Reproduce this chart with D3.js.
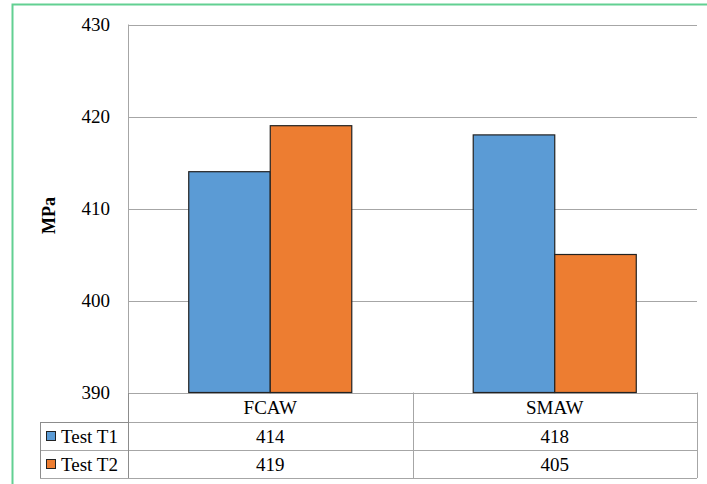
<!DOCTYPE html>
<html>
<head>
<meta charset="utf-8">
<script src="https://cdn.jsdelivr.net/npm/d3@7"></script>
<style>
  html, body { margin: 0; padding: 0; background: #fff; }
  svg { display: block; }
  svg text { font-family: "Liberation Serif", "Times New Roman", Times, "DejaVu Serif", serif; fill: #000; }
</style>
</head>
<body>
<svg id="chart" width="707" height="484"></svg>
<script>
// Welding process tensile strength, two tests per process
const categories = ["FCAW", "SMAW"];
const seriesNames = ["Test T1", "Test T2"];
const testT1 = [414, 418];
const testT2 = [419, 405];
const yTicks = [390, 400, 410, 420, 430];
const colors = ["#5b9bd5", "#ed7d31"];
const yTitle = "MPa";

const series = [testT1, testT2];
const serif = '"Liberation Serif", "Times New Roman", Times, "DejaVu Serif", serif';

const svg = d3.select("#chart");

// outer frame
svg.append("path")
  .attr("d", "M12.5,484 V4.5 H707")
  .attr("fill", "none")
  .attr("stroke", "#62d092")
  .attr("stroke-width", 2);

const plot = { left: 128, right: 697, top: 24.5, bottom: 392.5 };

const x0 = d3.scaleBand()
  .domain(categories)
  .range([plot.left, plot.right])
  .padding(0);

const x1 = d3.scaleBand()
  .domain(seriesNames)
  .range([0, x0.bandwidth()])
  .paddingInner(0)
  .paddingOuter(0.745);

const y = d3.scaleLinear()
  .domain([yTicks[0], yTicks[yTicks.length - 1]])
  .range([plot.bottom, plot.top]);

// y tick labels
const yAxis = d3.axisLeft(y).tickValues(yTicks).tickSize(0).tickPadding(18).tickFormat(d3.format("d"));
const gAxis = svg.append("g")
  .attr("transform", `translate(${plot.left},0)`)
  .call(yAxis)
  .attr("font-family", serif);
gAxis.select(".domain").remove();
gAxis.selectAll("text")
  .attr("font-size", 19)
  .style("font-family", serif);

// gridlines
svg.append("g")
  .selectAll("line")
  .data(yTicks)
  .join("line")
  .attr("x1", plot.left)
  .attr("x2", plot.right)
  .attr("y1", d => Math.round(y(d)) + 0.5)
  .attr("y2", d => Math.round(y(d)) + 0.5)
  .attr("stroke", "#a6a6a6")
  .attr("stroke-width", 1);

// plot area left border
svg.append("line")
  .attr("x1", plot.left + 0.5).attr("x2", plot.left + 0.5)
  .attr("y1", plot.top).attr("y2", plot.bottom)
  .attr("stroke", "#a6a6a6");

// bars
const groups = svg.append("g")
  .selectAll("g")
  .data(categories)
  .join("g")
  .attr("transform", d => `translate(${x0(d)},0)`);

groups.selectAll("rect")
  .data((c, i) => seriesNames.map((s, j) => ({ s, j, v: series[j][i] })))
  .join("rect")
  .attr("x", d => x1(d.s))
  .attr("width", x1.bandwidth())
  .attr("y", d => y(d.v))
  .attr("height", d => y(yTicks[0]) - y(d.v))
  .attr("fill", d => colors[d.j])
  .attr("stroke", "#222")
  .attr("stroke-width", 1.2);

// y axis title
svg.append("text")
  .attr("transform", `translate(55,${(plot.top + plot.bottom) / 2 + 7}) rotate(-90)`)
  .attr("text-anchor", "middle")
  .attr("font-weight", "bold")
  .attr("font-size", 18)
  .style("font-family", serif)
  .text(yTitle);

// data table
const rowH = [29.5, 28, 28];
const tableTop = plot.bottom;
const tableLeft = 40;
const rowTops = [tableTop, tableTop + rowH[0], tableTop + rowH[0] + rowH[1]];
const tableBottom = rowTops[2] + rowH[2];
const lineColor = "#a6a6a6";
const tbl = svg.append("g");

// horizontal lines
tbl.append("line").attr("x1", plot.left).attr("x2", plot.right)
  .attr("y1", rowTops[1] + 0.5).attr("y2", rowTops[1] + 0.5).attr("stroke", lineColor);
tbl.append("line").attr("x1", tableLeft).attr("x2", plot.left)
  .attr("y1", rowTops[1] + 0.5).attr("y2", rowTops[1] + 0.5).attr("stroke", "#8c8c8c");
tbl.append("line").attr("x1", tableLeft).attr("x2", plot.right)
  .attr("y1", rowTops[2] + 0.5).attr("y2", rowTops[2] + 0.5).attr("stroke", lineColor);
tbl.append("line").attr("x1", tableLeft).attr("x2", plot.right)
  .attr("y1", tableBottom + 0.5).attr("y2", tableBottom + 0.5).attr("stroke", lineColor);

// vertical lines
tbl.append("line").attr("x1", tableLeft + 0.5).attr("x2", tableLeft + 0.5)
  .attr("y1", rowTops[1]).attr("y2", tableBottom).attr("stroke", "#8c8c8c");
tbl.append("line").attr("x1", plot.left + 0.5).attr("x2", plot.left + 0.5)
  .attr("y1", plot.bottom).attr("y2", tableBottom).attr("stroke", "#8c8c8c");
categories.forEach(c => {
  const xr = Math.round(x0(c) + x0.bandwidth()) + 0.5;
  tbl.append("line").attr("x1", xr).attr("x2", xr)
    .attr("y1", plot.bottom).attr("y2", tableBottom).attr("stroke", lineColor);
});

// header row: categories
tbl.selectAll("text.cat")
  .data(categories)
  .join("text")
  .attr("class", "cat")
  .attr("x", d => x0(d) + x0.bandwidth() / 2)
  .attr("y", rowTops[0] + rowH[0] / 2 + 7)
  .attr("text-anchor", "middle")
  .attr("font-size", 19)
  .style("font-family", serif)
  .text(d => d);

// series rows
seriesNames.forEach((s, j) => {
  const rt = rowTops[j + 1];
  tbl.append("rect")
    .attr("x", 46.5).attr("y", rt + 9.5)
    .attr("width", 9).attr("height", 9)
    .attr("fill", colors[j]).attr("stroke", "#222").attr("stroke-width", 1);
  tbl.append("text")
    .attr("x", 61).attr("y", rt + rowH[j + 1] / 2 + 7)
    .attr("font-size", 19)
    .style("font-family", serif)
    .text(s);
  tbl.selectAll(null)
    .data(series[j])
    .join("text")
    .attr("x", (d, i) => x0(categories[i]) + x0.bandwidth() / 2)
    .attr("y", rt + rowH[j + 1] / 2 + 7)
    .attr("text-anchor", "middle")
    .attr("font-size", 19)
    .style("font-family", serif)
    .text(d => d);
});
</script>
</body>
</html>
